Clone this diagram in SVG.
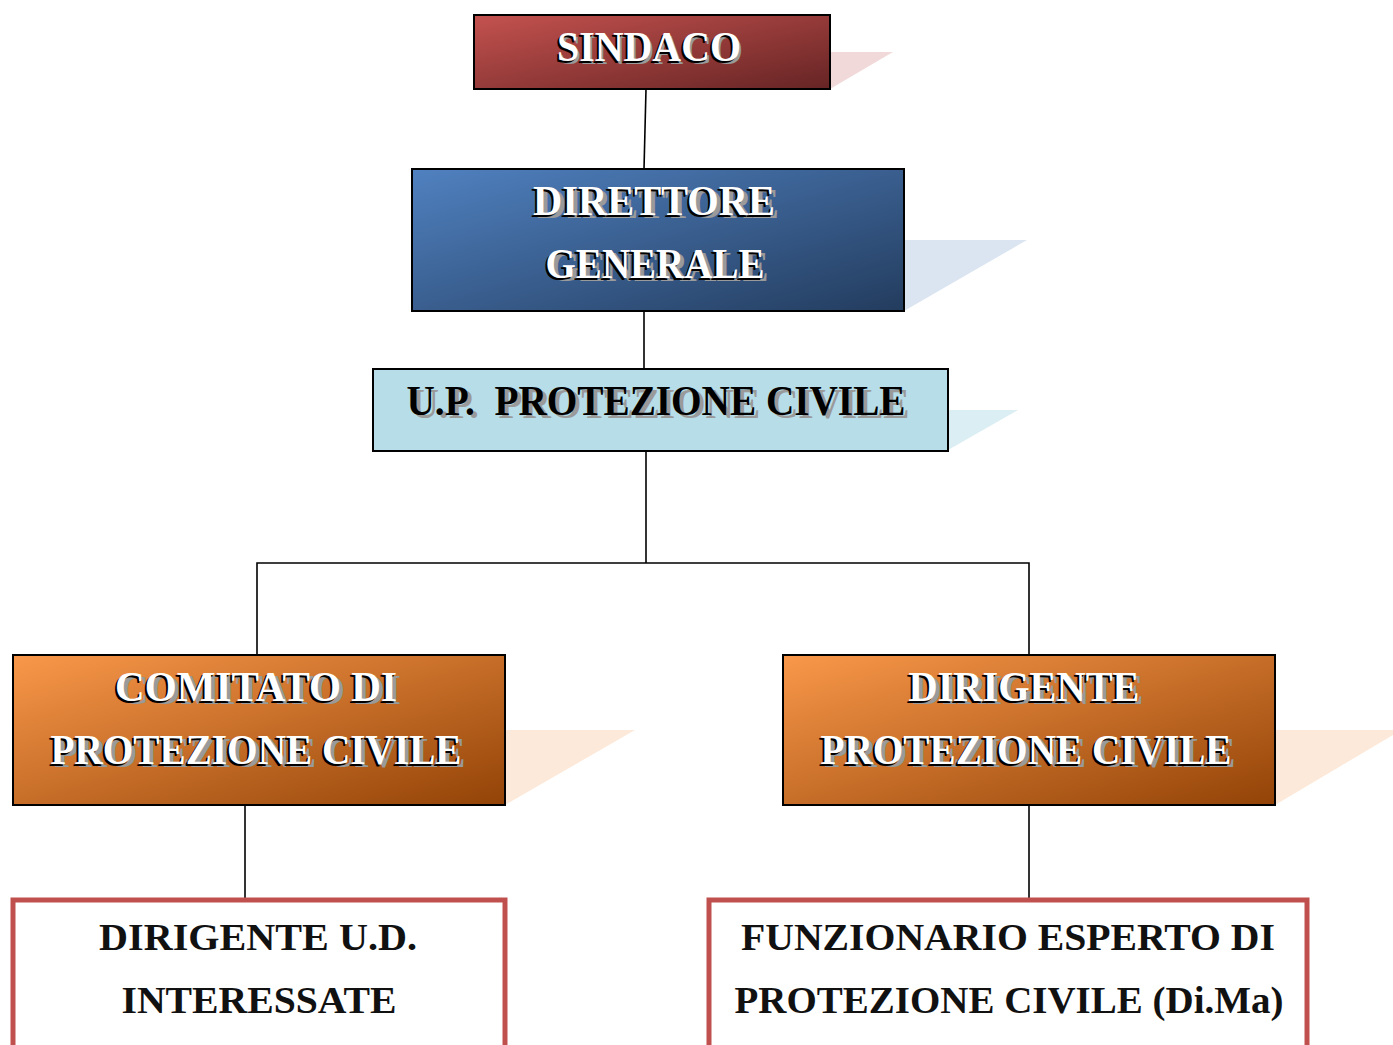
<svg xmlns="http://www.w3.org/2000/svg" width="1393" height="1045" viewBox="0 0 1393 1045">
<defs>
<linearGradient id="gRed" x1="0" y1="0" x2="1" y2="1"><stop offset="0" stop-color="#c4524f"/><stop offset="1" stop-color="#662424"/></linearGradient>
<linearGradient id="gBlue" x1="0" y1="0" x2="1" y2="1"><stop offset="0" stop-color="#5081c0"/><stop offset="1" stop-color="#233c5e"/></linearGradient>
<linearGradient id="gOrange" x1="0" y1="0" x2="1" y2="1"><stop offset="0" stop-color="#f9984a"/><stop offset="1" stop-color="#934307"/></linearGradient>
<style>
.box{stroke:#000;stroke-width:2}
.out{fill:#fff;stroke:#c0504d;stroke-width:5}
.conn{stroke:#000;stroke-width:1.6;fill:none}
.t{font-family:"Liberation Serif","Times New Roman",serif;font-weight:bold;font-size:42px;text-anchor:middle}
.sh{fill:#9a9a9a}
.bk{fill:#000}
.wh{fill:#fff}
.t2{font-family:"Liberation Serif","Times New Roman",serif;font-weight:bold;font-size:38px;text-anchor:middle;fill:#111}
</style>
</defs>
<g id="connectors">
<path class="conn" d="M646 89 L644 169"/>
<path class="conn" d="M644 311 V369"/>
<path class="conn" d="M646 451 V563 M257 655 V563 H1029 V655"/>
<path class="conn" d="M245 805 V898"/>
<path class="conn" d="M1029 805 V898"/>
</g>
<g id="sindaco">
<polygon points="830,52 893,52 830,89" fill="#f2d9d9"/>
<rect class="box" x="474" y="15" width="356" height="74" fill="url(#gRed)"/>
<text class="t sh" x="651" y="64" textLength="184" lengthAdjust="spacingAndGlyphs">SINDACO</text>
<text class="t bk" x="647" y="63" textLength="184" lengthAdjust="spacingAndGlyphs">SINDACO</text>
<text class="t wh" x="649" y="61" textLength="184" lengthAdjust="spacingAndGlyphs">SINDACO</text>
</g>
<g id="direttore">
<polygon points="904,240 1027,240 904,311" fill="#dbe5f1"/>
<rect class="box" x="412" y="169" width="492" height="142" fill="url(#gBlue)"/>
<text class="t sh" x="658" y="218" textLength="242" lengthAdjust="spacingAndGlyphs">DIRETTORE</text>
<text class="t bk" x="652" y="217" textLength="242" lengthAdjust="spacingAndGlyphs">DIRETTORE</text>
<text class="t wh" x="654" y="215" textLength="242" lengthAdjust="spacingAndGlyphs">DIRETTORE</text>
<text class="t sh" x="659" y="281" textLength="219" lengthAdjust="spacingAndGlyphs">GENERALE</text>
<text class="t bk" x="653" y="280" textLength="219" lengthAdjust="spacingAndGlyphs">GENERALE</text>
<text class="t wh" x="655" y="278" textLength="219" lengthAdjust="spacingAndGlyphs">GENERALE</text>
</g>
<g id="up">
<polygon points="948,410 1018,410 948,450" fill="#daeef3"/>
<rect class="box" x="373" y="369" width="575" height="82" fill="#b7dde8"/>
<text class="t sh" x="660" y="418" textLength="499" lengthAdjust="spacingAndGlyphs" xml:space="preserve">U.P.  PROTEZIONE CIVILE</text>
<text class="t bk" x="656" y="415" textLength="499" lengthAdjust="spacingAndGlyphs" xml:space="preserve">U.P.  PROTEZIONE CIVILE</text>
</g>
<g id="comitato">
<polygon points="505,730 635,730 505,805" fill="#fde9d9"/>
<rect class="box" x="13" y="655" width="492" height="150" fill="url(#gOrange)"/>
<text class="t sh" x="260" y="704" textLength="282" lengthAdjust="spacingAndGlyphs">COMITATO DI</text>
<text class="t bk" x="254" y="703" textLength="282" lengthAdjust="spacingAndGlyphs">COMITATO DI</text>
<text class="t wh" x="256" y="701" textLength="282" lengthAdjust="spacingAndGlyphs">COMITATO DI</text>
<text class="t sh" x="260" y="767" textLength="411" lengthAdjust="spacingAndGlyphs">PROTEZIONE CIVILE</text>
<text class="t bk" x="254" y="766" textLength="411" lengthAdjust="spacingAndGlyphs">PROTEZIONE CIVILE</text>
<text class="t wh" x="256" y="764" textLength="411" lengthAdjust="spacingAndGlyphs">PROTEZIONE CIVILE</text>
</g>
<g id="dirigente">
<polygon points="1275,730 1393,730 1393,735 1275,805" fill="#fde9d9"/>
<rect class="box" x="783" y="655" width="492" height="150" fill="url(#gOrange)"/>
<text class="t sh" x="1028" y="704" textLength="231" lengthAdjust="spacingAndGlyphs">DIRIGENTE</text>
<text class="t bk" x="1022" y="703" textLength="231" lengthAdjust="spacingAndGlyphs">DIRIGENTE</text>
<text class="t wh" x="1024" y="701" textLength="231" lengthAdjust="spacingAndGlyphs">DIRIGENTE</text>
<text class="t sh" x="1030" y="767" textLength="411" lengthAdjust="spacingAndGlyphs">PROTEZIONE CIVILE</text>
<text class="t bk" x="1024" y="766" textLength="411" lengthAdjust="spacingAndGlyphs">PROTEZIONE CIVILE</text>
<text class="t wh" x="1026" y="764" textLength="411" lengthAdjust="spacingAndGlyphs">PROTEZIONE CIVILE</text>
</g>
<g id="dirigente-ud">
<rect class="out" x="13" y="900" width="492" height="160"/>
<text class="t2" x="258" y="950" textLength="318" lengthAdjust="spacingAndGlyphs">DIRIGENTE U.D.</text>
<text class="t2" x="259" y="1013" textLength="275" lengthAdjust="spacingAndGlyphs">INTERESSATE</text>
</g>
<g id="funzionario">
<rect class="out" x="709" y="900" width="598" height="160"/>
<text class="t2" x="1008" y="950" textLength="534" lengthAdjust="spacingAndGlyphs">FUNZIONARIO ESPERTO DI</text>
<text class="t2" x="1009" y="1013" textLength="549" lengthAdjust="spacingAndGlyphs">PROTEZIONE CIVILE (Di.Ma)</text>
</g>
</svg>
